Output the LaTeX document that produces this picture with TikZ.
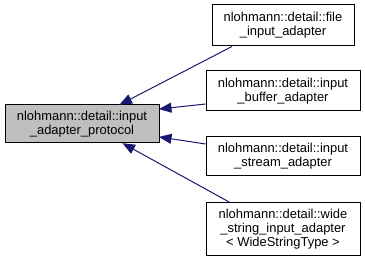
\documentclass[tikz,border=0pt]{standalone}
\usepackage{fontspec}
\setmainfont{Liberation Sans}
\usetikzlibrary{arrows.meta,calc}
\definecolor{edgeblue}{RGB}{25,25,112}
\definecolor{basegray}{RGB}{191,191,191}
\begin{document}
\begin{tikzpicture}[x=.75pt,y=-.75pt,
		cls/.style={draw,line width=.75pt,align=center,inner sep=0pt,
			font=\fontsize{9.7}{10.6}\selectfont},
		inherit/.style={draw=edgeblue,line width=.75pt,
			-{Triangle[length=9.5pt,width=7.5pt]},shorten >=-.5pt}]
	\useasboundingbox (0,0) rectangle (365,263);
	% base class on the left
	\node[cls,fill=basegray,minimum width=115.5pt,minimum height=28.5pt] (protocol) at (82,124)
		{nlohmann::detail::input\\\_adapter\_protocol};
	% derived classes on the right
	\foreach \name/\x/\y/\w/\h/\txt in {file/283/25.5/106.5/30.75/{nlohmann::detail::file\\\_input\_adapter},
						buffer/283/91/115.5/30/{nlohmann::detail::input\\\_buffer\_adapter},
						stream/283/156.5/115.5/29.25/{nlohmann::detail::input\\\_stream\_adapter},
						wide/283/229.5/115.5/39.75/{nlohmann::detail::wide\\\_string\_input\_adapter\\< WideStringType >}}
		\node[cls,fill=white,minimum width=\w pt,minimum height=\h pt] (\name) at (\x,\y) {\txt};
	% inheritance arrows
	\draw[inherit] ($(file.south)+(-51,0)$) -- ($(protocol.north)+(38,0)$);
	\draw[inherit] ($(buffer.west)+(0,13)$) -- ($(protocol.east)+(0,-15)$);
	\draw[inherit] ($(stream.west)+(0,-12.5)$) -- ($(protocol.east)+(0,13)$);
	\draw[inherit] ($(wide.north)+(-53,0)$) -- ($(protocol.south)+(41,0)$);
\end{tikzpicture}
\end{document}
